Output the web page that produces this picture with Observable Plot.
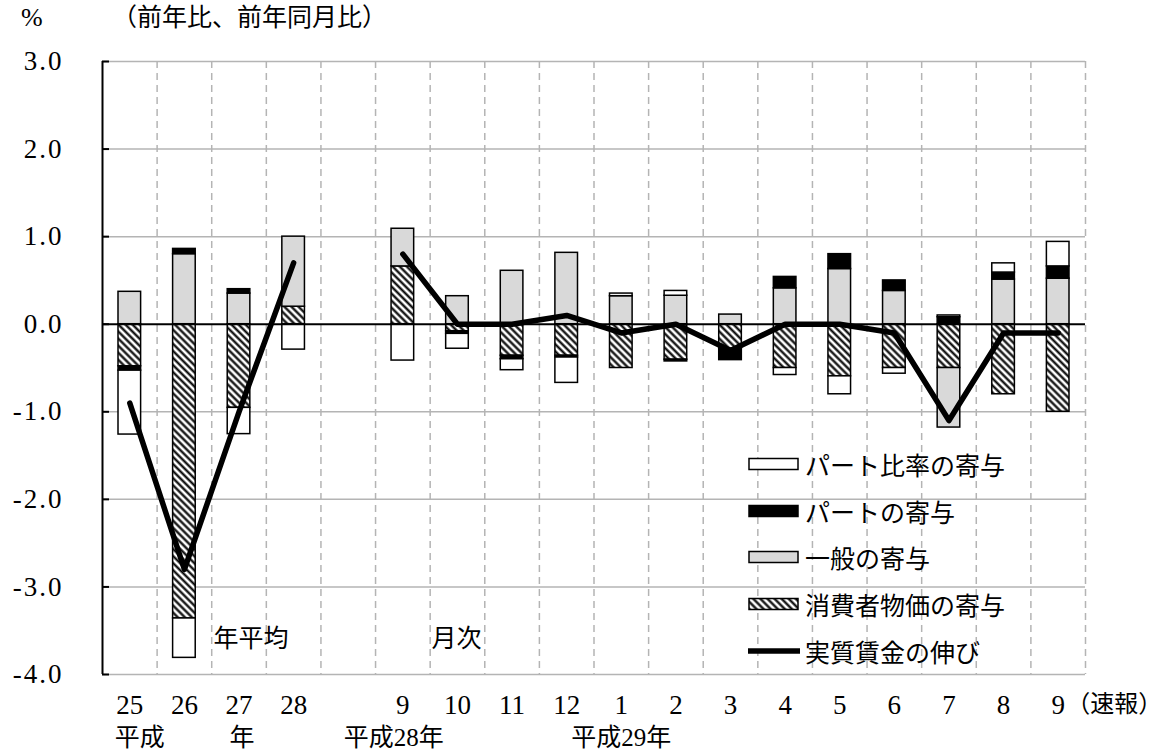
<!DOCTYPE html>
<html><head><meta charset="utf-8">
<script src="https://cdn.jsdelivr.net/npm/d3@7"></script>
<script src="https://cdn.jsdelivr.net/npm/@observablehq/plot@0.6"></script>
<style>
body{margin:0;background:#fff;}
#wrap{position:relative;width:1163px;height:756px;font-family:"Liberation Serif","Noto Sans CJK JP",serif;color:#000;}
#hdr{position:relative;height:40px;}
#pct{position:absolute;left:21px;top:3px;font-size:26px;line-height:30px;}
#sub{position:absolute;left:112px;top:3px;font-size:25px;line-height:30px;}
#legend{position:absolute;left:0;top:0;width:1163px;height:756px;pointer-events:none;}
.lrow{position:absolute;left:748px;height:30px;display:flex;align-items:center;font-size:25px;white-space:nowrap;}
.lrow svg{margin-right:5px;}
#chart svg [aria-label="y-axis tick label"] text{letter-spacing:2px;}
</style></head><body>
<div id="wrap">
  <div id="hdr"><span id="pct">%</span><span id="sub">（前年比、前年同月比）</span></div>
  <div id="chart"></div>
  <div id="legend"></div>
</div>
<script>
// ---- data ----
const slotLabels = ["25","26","27","28","","9","10","11","12","1","2","3","4","5","6","7","8","9"];
const seriesNames = ["消費者物価の寄与","一般の寄与","パートの寄与","パート比率の寄与"];
const lineName = "実質賃金の伸び";
const cpiContrib     = [-0.48,-3.36,-0.955,0.20,null,0.66,-0.08,-0.36,-0.36,-0.50,-0.405,-0.28,-0.50,-0.595,-0.50,-0.50,-0.80,-1.00];
const generalContrib = [0.37,0.80,0.35,0.80,null,0.43,0.32,0.61,0.815,0.32,0.325,0.11,0.41,0.63,0.38,-0.68,0.51,0.52];
const partContrib    = [-0.05,0.06,0.05,0,null,0,-0.03,-0.04,-0.02,0,-0.02,-0.13,0.13,0.17,0.12,0.08,0.08,0.14];
const ratioContrib   = [-0.73,-0.45,-0.30,-0.29,null,-0.415,-0.17,-0.125,-0.29,0.03,0.055,0,-0.08,-0.205,-0.065,0.02,0.105,0.28];
const realWage       = [-0.9,-2.8,-1.0,0.7,null,0.8,0.0,0.0,0.1,-0.1,0.0,-0.3,0.0,0.0,-0.1,-1.1,-0.1,-0.1];
const yTicks = [-4,-3,-2,-1,0,1,2,3];
const eraLabels = ["平成","","年","","","平成28年","","","","平成29年","","","","","","","",""];
const periodLabels = ["","","年平均","","","","月次","","","","","","","","","","",""];
const noteLabel = "（速報）";

// ---- tables built from arrays ----
const seriesValues = [cpiContrib, generalContrib, partContrib, ratioContrib];
const bars = [];
slotLabels.forEach((lab, i) => {
  seriesValues.forEach((arr, k) => {
    const v = arr[i];
    if (v != null && v !== 0) bars.push({i, s: seriesNames[k], v});
  });
});
const lineData = realWage.map((v, i) => ({i, v}));
const slots = slotLabels.map((lab, i) => ({i, lab, era: eraLabels[i], period: periodLabels[i]}));
const boundaries = d3.range(1, slotLabels.length + 1);
const lastSlot = slotLabels.length - 1;

const fontCJK = '"Liberation Serif","Noto Sans CJK JP",serif';
const eraText = (filter, opts) => Plot.text(slots.filter(filter), {x: d => d.i + 0.5, text: "era", frameAnchor: "bottom", lineAnchor: "top", dy: 54, fontSize: 25, ...opts});

const plot = Plot.plot({
  width: 1163,
  height: 716,
  marginTop: 21,
  marginBottom: 82,
  marginLeft: 102,
  marginRight: 78,
  style: {fontFamily: fontCJK, fontSize: "26px", background: "white", overflow: "visible", color: "black"},
  x: {type: "linear", domain: [0, slotLabels.length], axis: null},
  y: {domain: [-4, 3], axis: null},
  color: {domain: seriesNames, range: ["url(#hatch)", "#d9d9d9", "#000000", "#ffffff"]},
  marks: [
    Plot.ruleY(yTicks.filter(t => t !== 0), {stroke: "#b4b4b4", strokeWidth: 1.5}),
    Plot.ruleX(boundaries, {stroke: "#b4b4b4", strokeWidth: 1.5, strokeDasharray: "7,5"}),
    Plot.rectY(bars, {x1: d => d.i, x2: d => d.i + 1, y: "v", fill: "s", stroke: "black", strokeWidth: 1.5, insetLeft: 16, insetRight: 16}),
    Plot.ruleY([0], {stroke: "black", strokeWidth: 2}),
    Plot.line(lineData, {x: d => d.i + 0.5, y: "v", stroke: "black", strokeWidth: 5.5, curve: "linear"}),
    Plot.ruleX([0], {stroke: "black", strokeWidth: 2}),
    Plot.axisY(yTicks, {label: null, tickSize: -7, tickPadding: 46, tickFormat: d => d.toFixed(1), fontSize: 27, stroke: "black", strokeWidth: 2, fill: "black"}),
    Plot.text(slots.filter(d => d.lab), {x: d => d.i + 0.5, text: "lab", frameAnchor: "bottom", lineAnchor: "top", dy: 20, fontSize: 27}),
    eraText(d => d.i === 0, {textAnchor: "start", dx: -15}),
    eraText(d => d.i === 2, {dx: 3}),
    eraText(d => d.i === 5, {dx: -9}),
    eraText(d => d.i === 9, {dx: 0}),
    Plot.text(slots.filter(d => d.i === lastSlot), {x: d => d.i + 0.5, text: () => noteLabel, frameAnchor: "bottom", lineAnchor: "top", dy: 20, fontSize: 24, textAnchor: "start", dx: 8}),
    Plot.text(slots.filter(d => d.i === 2), {x: d => d.i + 0.5, y: -3.6, text: "period", fontSize: 25, dx: 12}),
    Plot.text(slots.filter(d => d.i === 6), {x: d => d.i + 0.5, y: -3.6, text: "period", fontSize: 25, dx: -1})
  ]
});

d3.select(plot).insert("defs", ":first-child").html(
  '<pattern id="hatch" patternUnits="userSpaceOnUse" width="5" height="5" patternTransform="rotate(-45)">' +
  '<rect width="5" height="5" fill="white"/><line x1="2.5" y1="-1" x2="2.5" y2="6" stroke="black" stroke-width="2.2"/></pattern>'
);
document.getElementById("chart").appendChild(plot);

// ---- legend ----
const legendFills = {"パート比率の寄与": "#ffffff", "パートの寄与": "#000000", "一般の寄与": "#d9d9d9", "消費者物価の寄与": "url(#hatch)"};
const legendItems = [...seriesNames].reverse().concat([lineName]);
const legendCenters = [464, 511, 557, 604, 651];
const leg = document.getElementById("legend");
legendItems.forEach((name, j) => {
  const row = document.createElement("div");
  row.className = "lrow";
  row.style.top = (legendCenters[j] - 15) + "px";
  let sw;
  if (name === lineName) {
    sw = '<svg width="52" height="14"><line x1="1" y1="7" x2="51" y2="7" stroke="black" stroke-width="5.5" stroke-linecap="round"/></svg>';
  } else {
    sw = `<svg width="52" height="14"><rect x="1" y="1.5" width="49" height="11" fill="${legendFills[name]}" stroke="black" stroke-width="1.5"/></svg>`;
  }
  row.innerHTML = sw + '<span></span>';
  row.querySelector("span").textContent = name;
  leg.appendChild(row);
});
</script>
</body></html>
